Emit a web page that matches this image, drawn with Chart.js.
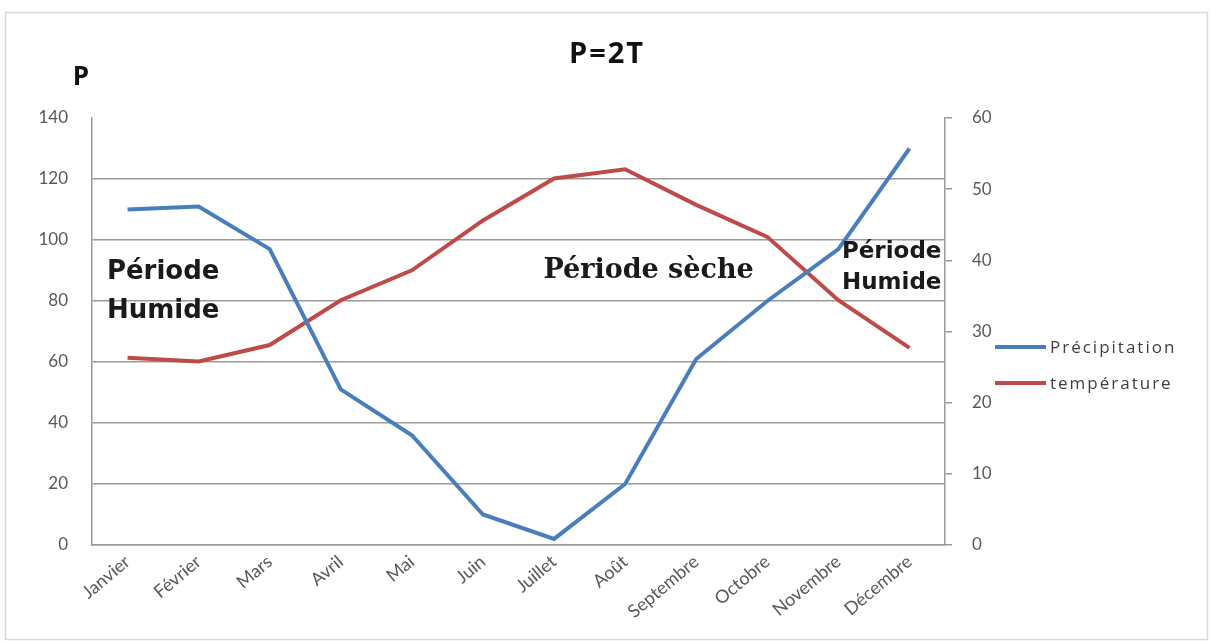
<!DOCTYPE html>
<html>
<head>
<meta charset="utf-8">
<script src="https://cdn.jsdelivr.net/npm/chart.js@4"></script>
<style>
  html, body { margin: 0; padding: 0; background: #fff; }
  #wrap { width: 1213px; height: 643px; }
</style>
</head>
<body>
<div id="wrap"><canvas id="chart" width="1213" height="643"></canvas></div>
<script>
const months = ['Janvier', 'Février', 'Mars', 'Avril', 'Mai', 'Juin', 'Juillet', 'Août', 'Septembre', 'Octobre', 'Novembre', 'Décembre'];
const precipitation = [110, 111, 97, 51, 36, 10, 2, 20, 61, 80, 97, 130];
const temperature = [26.3, 25.8, 28.1, 34.4, 38.6, 45.6, 51.5, 52.8, 47.8, 43.3, 34.4, 27.7];
const pRange = [0, 140, 20];
const tRange = [0, 60, 10];

// text notes placed with the chart scales (x = month index, y = P value)
const notes = [
    { text: 'Période', x: -0.29, y: 89.5, font: 'bold 26px "DejaVu Sans"', align: 'left' },
    { text: 'Humide', x: -0.29, y: 76.5, font: 'bold 26px "DejaVu Sans"', align: 'left' },
    { text: 'Période sèche', x: 7.33, y: 90, font: 'bold 27px "DejaVu Serif"', align: 'center' },
    { text: 'Période', x: 10.75, y: 96, font: 'bold 23px "DejaVu Sans"', align: 'center' },
    { text: 'Humide', x: 10.75, y: 86, font: 'bold 23px "DejaVu Sans"', align: 'center' }
];

const blue = '#4A7EBB';
const red = '#BE4B48';
const tickColor = '#595959';
const gridColor = '#9a9a9a';

const decor = {
    id: 'decor',
    beforeDraw(chart) {
        const ctx = chart.ctx;
        ctx.save();
        ctx.fillStyle = '#fff';
        ctx.fillRect(0, 0, chart.width, chart.height);
        ctx.strokeStyle = '#d9d9d9';
        ctx.lineWidth = 1.5;
        ctx.strokeRect(5.5, 12.5, 1202, 627);
        ctx.restore();
    },
    afterDraw(chart) {
        const ctx = chart.ctx;
        const x = chart.scales.x, y = chart.scales.y;
        ctx.save();
        ctx.fillStyle = '#111';
        ctx.textBaseline = 'middle';
        ctx.textAlign = 'center';
        ctx.font = 'bold 29px "Open Sans"';
        ctx.letterSpacing = '2px';
        ctx.fillText('P=2T', 607, 55);
        ctx.font = 'bold 26px "Open Sans"';
        ctx.fillText('P', 82, 78);
        ctx.letterSpacing = '0px';

        notes.forEach(n => {
            ctx.font = n.font;
            ctx.textAlign = n.align;
            ctx.fillStyle = '#1a1a1a';
            ctx.fillText(n.text, x.getPixelForValue(n.x), y.getPixelForValue(n.y));
        });

        // legend
        const items = chart.data.datasets;
        ctx.textAlign = 'left';
        ctx.font = '17px "Open Sans"';
        ctx.letterSpacing = '2px';
        items.forEach((ds, i) => {
            const ly = 347 + i * 36;
            ctx.strokeStyle = ds.borderColor;
            ctx.lineWidth = 4;
            ctx.beginPath();
            ctx.moveTo(995, ly);
            ctx.lineTo(1046, ly);
            ctx.stroke();
            ctx.fillStyle = '#404040';
            ctx.fillText(ds.label, 1050, ly + 1);
        });
        ctx.restore();
    }
};

new Chart(document.getElementById('chart'), {
    type: 'line',
    data: {
        labels: months,
        datasets: [
            {
                label: 'Précipitation',
                data: precipitation,
                yAxisID: 'y',
                borderColor: blue,
                borderWidth: 4,
                pointRadius: 0,
                tension: 0
            },
            {
                label: 'température',
                data: temperature,
                yAxisID: 'y1',
                borderColor: red,
                borderWidth: 4,
                pointRadius: 0,
                tension: 0
            }
        ]
    },
    options: {
        responsive: false,
        animation: false,
        layout: { padding: { left: 10, right: 0, top: 118, bottom: 0 } },
        plugins: {
            legend: { display: false },
            title: { display: false },
            tooltip: { enabled: false }
        },
        scales: {
            x: {
                offset: true,
                grid: { drawOnChartArea: false, drawTicks: false },
                border: { display: true, color: gridColor, width: 1.5 },
                ticks: {
                    color: tickColor,
                    font: { family: 'Lato', size: 18 },
                    minRotation: 40,
                    maxRotation: 40,
                    padding: 6
                },
                afterFit(s) { s.height = 98; }
            },
            y: {
                position: 'left',
                min: pRange[0],
                max: pRange[1],
                ticks: {
                    stepSize: pRange[2],
                    color: tickColor,
                    font: { family: 'Lato', size: 17 },
                    padding: 24
                },
                grid: {
                    drawTicks: false,
                    lineWidth: 1.5,
                    color: c => (c.tick && c.tick.value === pRange[1]) ? 'rgba(0,0,0,0)' : gridColor
                },
                border: { display: true, color: gridColor, width: 1.5 },
                afterFit(s) { s.width = 82; }
            },
            y1: {
                position: 'right',
                min: tRange[0],
                max: tRange[1],
                ticks: {
                    stepSize: tRange[2],
                    color: tickColor,
                    font: { family: 'Lato', size: 17 },
                    padding: 20
                },
                grid: {
                    drawOnChartArea: false,
                    drawTicks: true,
                    tickLength: 7,
                    lineWidth: 1.5,
                    color: gridColor
                },
                border: { display: true, color: gridColor, width: 1.5 },
                afterFit(s) { s.width = 268; }
            }
        }
    },
    plugins: [decor]
});
</script>
</body>
</html>
